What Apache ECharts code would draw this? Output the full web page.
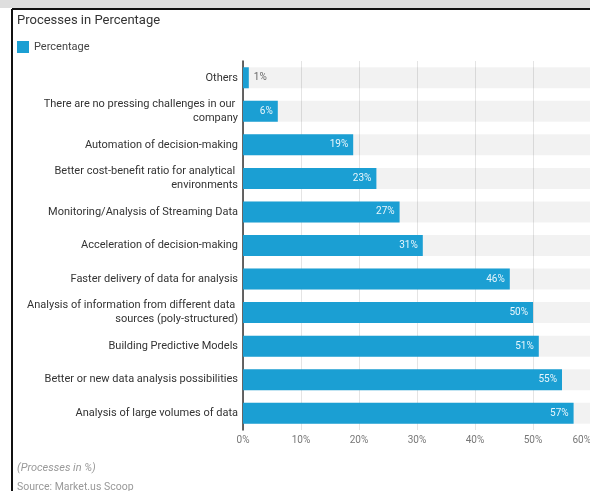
<html style="height: 100%">
<meta http-equiv=Content-Type content="text/html;charset=utf-8" />
<script type="text/javascript" src="https://cdn.jsdelivr.net/npm/echarts@6/dist/echarts.min.js"></script>
<body style="height: 100%; margin: 0; background: #fff">
<div id="echart" style="width: 590px; height: 491px"></div>
<script type="text/javascript">
	// categories, top to bottom
	var categories = [
		"Others",
		"There are no pressing challenges in our company",
		"Automation of decision-making",
		"Better cost-benefit ratio for analytical environments",
		"Monitoring/Analysis of Streaming Data",
		"Acceleration of decision-making",
		"Faster delivery of data for analysis",
		"Analysis of information from different data sources (poly-structured)",
		"Building Predictive Models",
		"Better or new data analysis possibilities",
		"Analysis of large volumes of data"
	];
	var percentage = [1, 6, 19, 23, 27, 31, 46, 50, 51, 55, 57];
	var xTicks = [0, 10, 20, 30, 40, 50, 60];

	var myChart = echarts.init(document.getElementById('echart'));
	var barColor = '#1b9fd3';

	// small bars: put the label outside in grey
	var dataItems = percentage.map(function (v) {
		if (v < 3) {
			return { value: v, label: { position: 'right', color: '#666' } };
		}
		return v;
	});

	myChart.setOption({
		animation: false,
		textStyle: { fontFamily: 'Roboto' },
		title: [{
			text: 'Processes in Percentage',
			left: 12, top: 9,
			textStyle: { fontSize: 13, fontWeight: 'normal', color: '#333' }
		}, {
			text: '(Processes in %)',
			left: 12, top: 458,
			textStyle: { fontSize: 11, fontWeight: 'normal', fontStyle: 'italic', color: '#999' }
		}, {
			text: 'Source: Market.us Scoop',
			left: 12, top: 477,
			textStyle: { fontSize: 10.5, fontWeight: 'normal', color: '#999' }
		}],
		legend: {
			left: 12, top: 36,
			itemWidth: 12, itemHeight: 12,
			itemGap: 4,
			icon: 'rect',
			textStyle: { fontSize: 11, color: '#444' },
			data: ['Percentage']
		},
		graphic: [
			{ type: 'rect', shape: { x: 0, y: 0, width: 590, height: 8 }, style: { fill: '#dedede' } },
			{ type: 'line', shape: { x1: 12, y1: 9, x2: 590, y2: 9 }, style: { stroke: '#111', lineWidth: 2 } },
			{ type: 'line', shape: { x1: 12, y1: 9, x2: 12, y2: 491 }, style: { stroke: '#111', lineWidth: 2 } }
		],
		grid: { left: 243, width: 348, top: 61, bottom: 61, outerBoundsMode: 'none', containLabel: false },
		xAxis: {
			type: 'value',
			min: xTicks[0], max: xTicks[xTicks.length - 1], interval: 10,
			axisLine: { show: false },
			axisTick: { show: false },
			axisLabel: {
				formatter: '{value}%', fontSize: 10, color: '#777', margin: 5,
				alignMaxLabel: 'right'
			},
			splitLine: { lineStyle: { color: '#e4e4e4' } }
		},
		yAxis: {
			type: 'category',
			inverse: true,
			data: categories,
			axisLine: { lineStyle: { color: '#333', width: 1.5 } },
			axisTick: { length: 222, lineStyle: { color: '#ececec' } },
			axisLabel: {
				fontSize: 11, color: '#333', width: 222, overflow: 'break',
				lineHeight: 14, margin: 5, align: 'right'
			}
		},
		series: [{
			name: 'Percentage',
			type: 'bar',
			data: dataItems,
			barWidth: 21,
			itemStyle: { color: barColor },
			showBackground: true,
			backgroundStyle: { color: 'rgba(0,0,0,0.05)' },
			label: {
				show: true,
				position: 'insideRight',
				formatter: '{c}%',
				fontSize: 10,
				color: '#e8f6fc',
				distance: 5
			}
		}]
	});
</script>
</body>
</html>
